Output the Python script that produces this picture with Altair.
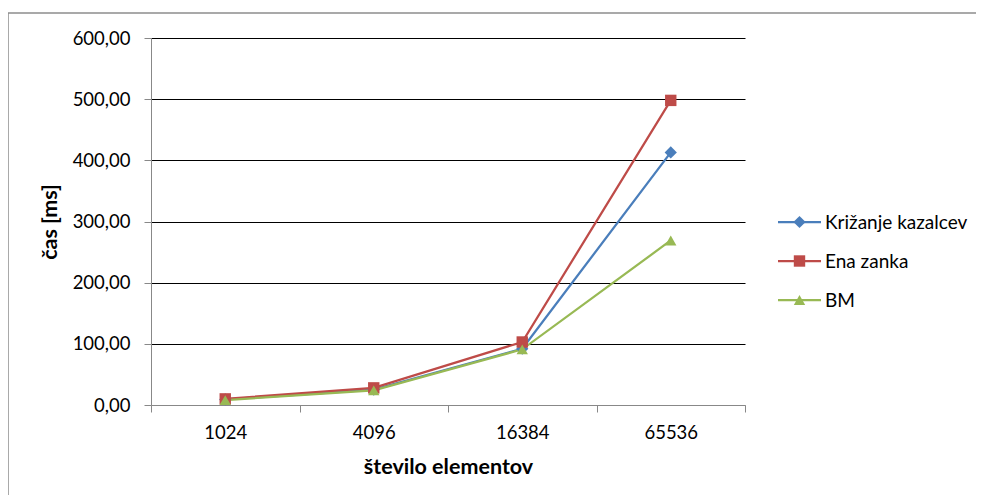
import altair as alt
import pandas as pd

categories = ["1024", "4096", "16384", "65536"]
series_names = ["Križanje kazalcev", "Ena zanka", "BM"]
krizanje = [9, 25, 92, 413]
ena_zanka = [10, 28, 103, 498]
bm = [8, 24, 91, 269]
y_ticks = [0, 100, 200, 300, 400, 500, 600]

colors = ["#4A7EBB", "#BE4B48", "#98B954"]
marker_shapes = ["diamond", "square", "triangle-up"]
marker_sizes = [150, 130, 130]

rows = []
for name, vals in zip(series_names, [krizanje, ena_zanka, bm]):
    for c, v in zip(categories, vals):
        rows.append({"n": c, "series": name, "cas": v})
df = pd.DataFrame(rows)
legend_df = pd.DataFrame({"series": series_names})

FONT = "Lato"
W, H = 594, 367

x_enc = alt.X(
    "n:N",
    sort=categories,
    scale=alt.Scale(type="band", paddingInner=0, paddingOuter=0),
    axis=alt.Axis(
        title="število elementov",
        labelAngle=0,
        tickBand="extent",
        tickSize=7,
        labelPadding=11,
        titleX=W / 2,
        titleY=62,
        titleBaseline="middle",
        titleAnchor="middle",
    ),
)
y_enc = alt.Y(
    "cas:Q",
    scale=alt.Scale(domain=[0, 600], nice=False, zero=True),
    axis=alt.Axis(
        title="čas [ms]",
        values=y_ticks,
        labelExpr="replace(format(datum.value, '.2f'), '.', ',')",
        tickSize=7,
        labelPadding=14,
        grid=True,
        gridColor=alt.condition("datum.value == 0", alt.value("#888888"), alt.value("#000000")),
        titleX=-101,
        titleY=H / 2,
        titleAngle=-90,
        titleBaseline="middle",
        titleAnchor="middle",
    ),
)
color_enc = alt.Color(
    "series:N",
    scale=alt.Scale(domain=series_names, range=colors),
    legend=None,
)

frame_data = pd.DataFrame({"a": [0]})
border_left = alt.Chart(frame_data).mark_rule(stroke="#8c8c8c", strokeWidth=1.5).encode(
    x=alt.value(-143), y=alt.value(-25), y2=alt.value(480)
)
border_top = alt.Chart(frame_data).mark_rule(stroke="#8c8c8c", strokeWidth=1.5).encode(
    x=alt.value(-143), x2=alt.value(860), y=alt.value(-25)
)

lines = alt.Chart(df).mark_line(strokeWidth=2.25).encode(
    x=x_enc, y=y_enc, color=color_enc, detail="series:N"
)

point_layers = []
for name, shp, sz in zip(series_names, marker_shapes, marker_sizes):
    point_layers.append(
        alt.Chart(df)
        .transform_filter(alt.datum.series == name)
        .mark_point(filled=True, size=sz, opacity=1, shape=shp)
        .encode(x=x_enc, y=y_enc, color=color_enc)
    )

main = alt.layer(border_left, border_top, lines, *point_layers)

# legend drawn from the series names, rows placed by a point scale
leg_y = alt.Y(
    "series:N",
    sort=series_names,
    scale=alt.Scale(type="point", domain=series_names, range=[184, 262], padding=0),
    axis=None,
)
leg_line = alt.Chart(legend_df).mark_rule(strokeWidth=2.25).encode(
    x=alt.value(627), x2=alt.value(670), y=leg_y, color=color_enc
)
leg_points = []
for name, shp, sz in zip(series_names, marker_shapes, marker_sizes):
    leg_points.append(
        alt.Chart(legend_df)
        .transform_filter(alt.datum.series == name)
        .mark_point(filled=True, size=sz, opacity=1, shape=shp)
        .encode(x=alt.value(648.5), y=leg_y, color=color_enc)
    )
leg_text = alt.Chart(legend_df).mark_text(
    align="left", baseline="middle", font=FONT, fontSize=19, color="#000000", dy=1
).encode(x=alt.value(674), y=leg_y, text="series:N")

legend = alt.layer(leg_line, *leg_points, leg_text)

chart = alt.layer(main, legend).resolve_scale(y="independent").properties(
    width=W,
    height=H,
    autosize=alt.AutoSizeParams(type="none"),
    padding={"left": 143, "top": 30, "right": 231, "bottom": 90},
).configure_view(
    stroke=None
).configure_axis(
    labelFont=FONT,
    labelFontSize=18.5,
    labelColor="#000000",
    titleFont=FONT,
    titleFontSize=21.5,
    titleFontWeight="bold",
    titleColor="#000000",
    domainColor="#888888",
    tickColor="#888888",
    domainWidth=1,
    tickWidth=1,
    gridWidth=1,
).configure_axisX(
    grid=False
)

chart.save("out.html", embed_options={"renderer": "svg", "actions": False})
